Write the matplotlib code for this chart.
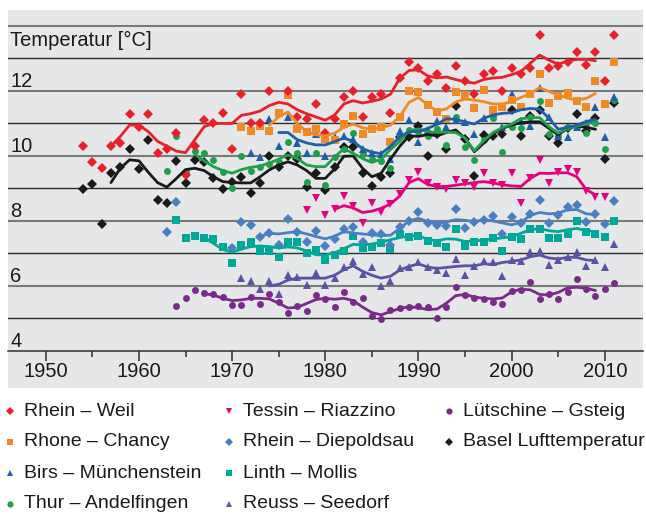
import numpy as np
import matplotlib.pyplot as plt
from matplotlib.lines import Line2D

plt.rcParams['font.family'] = ['Liberation Sans', 'DejaVu Sans']

nan = np.nan

# Rhein - Weil (annual points and smoothed curve)
weil_start = 1954
weil_pts = [10.31, 9.81, 9.62, 10.31, 10.41, 11.30, 10.90, 11.30, 10.10, 10.21,
            10.72, 9.42, 10.31, 11.11, 11.0, 11.31, 10.21, 11.91, 11.0, 11.0,
            12.01, nan, 12.01, 11.21, 11.13, 11.6, 10.72, 11.13, 11.81, 12.01,
            11.21, 11.81, 11.91, 11.31, 12.41, 12.9, 12.71, 12.31, 12.51, 12.1,
            12.78, 12.31, 11.91, 12.51, 12.6, 12.01, 12.71, 12.51, 12.71, 13.71,
            12.71, 12.78, 12.9, 13.2, 12.8, 13.2, 12.31, 13.71]
weil_lstart = 1957
weil_line = [10.3, 10.6, 10.95, 10.95, 10.75, 10.45, 10.3, 10.15, 10.1, 10.5,
             10.9, 11.0, 11.0, 11.0, 11.25, 11.3, 11.38, 11.55, 11.65, 11.6,
             11.42, 11.3, 11.2, 11.1, 11.26, 11.6, 11.7, 11.63, 11.68, 11.75,
             11.9, 12.39, 12.63, 12.65, 12.46, 12.4, 12.43, 12.35, 12.28, 12.24,
             12.35, 12.4, 12.42, 12.5, 12.6, 12.85, 13.1, 12.95, 12.82, 12.92,
             12.97, 12.97, 12.93]

# Rhone - Chancy
rhone_start = 1971
rhone_pts = [10.9, 10.78, 10.92, 10.78, 11.31, 11.87, 10.84, 10.74, 10.84, 10.53,
             10.49, 10.98, 11.23, 10.66, 10.84, 10.9, 10.43, 11.19, 12.01, 11.97,
             11.57, 11.36, 11.13, 11.97, 11.87, 11.46, 12.03, 11.42, 11.52, 11.72,
             11.52, 11.91, 12.52, 11.62, 11.85, 11.93, 11.69, 11.52, 12.32, 11.6,
             12.89]
rhone_lstart = 1974
rhone_line = [10.95, 11.2, 11.35, 11.0, 10.75, 10.65, 10.62, 10.7, 10.88, 10.98,
              10.87, 10.82, 10.86, 10.95, 11.21, 11.65, 11.8, 11.57, 11.38, 11.45,
              11.66, 11.75, 11.72, 11.67, 11.6, 11.6, 11.67, 11.8, 11.92, 12.1,
              11.98, 11.88, 11.78, 11.72, 11.77, 11.92]

# Birs - Muenchenstein
birs_start = 1972
birs_pts = [10.1, 9.96, 11.13, 10.31, 11.21, 10.41, 10.1, 10.67, 10.0, 10.57,
            10.62, 10.51, 10.21, 10.1, 10.06, 9.9, 10.78, 11.11, 10.44, 10.8,
            11.06, 10.88, 11.1, 11.05, 10.68, 11.16, 11.31, 10.9, 11.91, 11.09,
            10.92, 12.08, 11.2, 10.6, 10.58, 10.9, 11.0, 11.5, 10.59, 11.8]
birs_lstart = 1975
birs_line = [10.72, 10.72, 10.5, 10.4, 10.34, 10.34, 10.44, 10.55, 10.45, 10.22,
             10.12, 10.07, 10.3, 10.59, 10.75, 10.75, 10.85, 10.97, 11.15, 11.12,
             11.05, 10.98, 11.16, 11.26, 11.31, 11.33, 11.42, 11.46, 11.44, 11.16,
             10.82, 10.88, 10.95, 11.06, 11.13]

# Thur - Andelfingen
thur_start = 1963
thur_pts = [9.55, 10.62, 9.52, 10.16, 10.1, 9.88, 9.52, 9.0, 10.0, 9.55,
            9.65, 9.75, 9.8, 10.44, 10.1, 9.21, 10.08, 9.11, 9.96, 10.2,
            10.7, 10.06, 9.9, 9.83, 9.62, 10.6, 10.8, 10.75, 10.6, 10.82,
            10.34, 11.19, 10.27, 9.86, 10.5, 11.16, 10.13, 10.88, 10.85, 11.2,
            11.7, 10.68, 10.62, 10.9, 10.9, 10.7, 11.0, 10.2, 11.72]
thur_lstart = 1966
thur_line = [10.05, 9.85, 9.67, 9.55, 9.47, 9.58, 9.65, 9.69, 9.78, 9.9,
             10.03, 9.92, 9.72, 9.67, 9.67, 9.97, 10.22, 10.08, 9.92, 9.8,
             9.9, 10.2, 10.45, 10.78, 10.83, 10.75, 10.72, 10.73, 10.72, 10.55,
             10.16, 10.47, 10.72, 10.87, 10.98, 11.15, 11.17, 11.18, 10.9, 10.7,
             10.85, 10.92, 10.98, 11.08]

# Tessin - Riazzino
tessin_start = 1978
tessin_pts = [8.34, 8.7, 8.19, 8.36, 8.77, 8.46, 7.95, 8.56, 8.26, 8.52,
              8.83, 9.26, 9.5, 9.18, 9.03, 8.97, 9.26, 9.18, 9.04, 9.47,
              9.16, 9.11, 9.47, 8.54, 9.31, 9.88, 9.16, 9.52, 9.59, 9.52,
              8.93, 8.73, 8.75]
tessin_lstart = 1981
tessin_line = [8.36, 8.47, 8.4, 8.26, 8.3, 8.39, 8.52, 8.77, 9.18, 9.3,
               9.12, 9.06, 9.06, 9.1, 9.14, 9.18, 9.21, 9.17, 9.11, 9.08,
               9.06, 9.31, 9.47, 9.46, 9.48, 9.48, 9.36, 8.97, 8.8]

# Rhein - Diepoldsau
diep_start = 1963
diep_pts = [7.65, 8.57, nan, nan, nan, nan, nan, 7.16, 7.96, 7.88,
            7.5, 7.62, 7.26, 8.05, 7.67, 7.36, 7.69, 7.23, 7.44, 7.74,
            7.8, 7.36, 7.62, 7.6, 7.26, 7.8, 8.0, 8.27, 7.95, 7.88,
            7.85, 8.36, 7.77, 7.98, 8.03, 8.15, 7.6, 8.11, 7.95, 8.2,
            8.63, 7.93, 8.19, 8.42, 8.49, 7.98, 8.22, 7.91, 8.6]
diep_lstart = 1973
diep_line = [7.52, 7.62, 7.6, 7.64, 7.67, 7.6, 7.52, 7.45, 7.53, 7.67,
             7.63, 7.6, 7.57, 7.55, 7.56, 7.77, 8.0, 8.08, 7.98, 7.93,
             7.97, 8.04, 8.02, 7.98, 8.04, 8.0, 7.94, 7.88, 7.96, 8.17,
             8.26, 8.22, 8.24, 8.34, 8.35, 8.22, 8.19]

# Linth - Mollis
linth_start = 1964
linth_pts = [8.03, 7.47, 7.54, 7.48, 7.45, 7.21, 6.7, 7.26, 7.36, 7.09,
             7.09, 6.9, 7.36, 7.36, 7.0, 7.11, 6.8, 6.95, 7.09, 7.54,
             7.16, 7.21, 7.33, 7.13, 7.6, 7.52, 7.54, 7.39, 7.31, 7.21,
             7.74, 7.24, 7.36, 7.36, 7.47, 7.09, 7.52, 7.44, 7.74, 7.74,
             7.47, 7.47, 7.6, 8.01, 7.67, 7.6, 7.5, 8.01]
linth_lstart = 1967
linth_line = [7.5, 7.31, 7.12, 7.04, 7.13, 7.21, 7.23, 7.21, 7.17, 7.2,
              7.17, 7.08, 6.96, 6.95, 7.02, 7.15, 7.28, 7.26, 7.29, 7.35,
              7.42, 7.49, 7.54, 7.55, 7.43, 7.39, 7.45, 7.44, 7.37, 7.38,
              7.42, 7.44, 7.48, 7.52, 7.62, 7.73, 7.77, 7.7, 7.67, 7.73,
              7.77, 7.7, 7.67]

# Reuss - Seedorf
reuss_start = 1971
reuss_pts = [6.24, 6.16, 5.9, 6.16, 5.75, 6.34, 6.27, 6.03, 6.39, 6.03,
             6.24, 6.58, 6.78, 6.37, 6.58, 6.0, 6.16, 6.54, 6.58, 6.75,
             6.58, 6.49, 6.41, 6.82, 6.34, 6.62, 6.78, 6.75, 6.31, 6.8,
             6.78, 7.03, 7.06, 6.65, 6.8, 6.9, 7.03, 6.6, 6.8, 6.58, 7.29]
reuss_lstart = 1974
reuss_line = [6.0, 6.05, 6.18, 6.24, 6.24, 6.24, 6.24, 6.33, 6.5, 6.62,
              6.45, 6.33, 6.24, 6.3, 6.49, 6.6, 6.68, 6.58, 6.54, 6.57,
              6.6, 6.62, 6.62, 6.68, 6.66, 6.72, 6.76, 6.8, 6.9, 6.95,
              6.86, 6.83, 6.88, 6.88, 6.8, 6.78]

# Luetschine - Gsteig
luet_start = 1964
luet_pts = [5.38, 5.62, 5.86, 5.77, 5.76, 5.67, 5.42, 5.42, 5.67, 5.45,
            5.75, 5.5, 5.18, 5.38, 5.24, 5.72, 5.59, 5.34, 5.8, 5.52,
            5.62, 5.08, 4.97, 5.26, 5.31, 5.34, 5.38, 5.34, 5.0, 5.34,
            5.98, 5.72, 5.62, 5.59, 5.52, 5.45, 5.83, 5.86, 6.13, 5.59,
            5.75, 5.59, 5.8, 6.21, 5.9, 5.69, 5.9, 6.1]
luet_lstart = 1967
luet_line = [5.76, 5.72, 5.62, 5.55, 5.57, 5.62, 5.62, 5.6, 5.47, 5.32,
             5.34, 5.46, 5.58, 5.62, 5.59, 5.62, 5.55, 5.35, 5.18, 5.11,
             5.21, 5.31, 5.36, 5.33, 5.27, 5.29, 5.47, 5.7, 5.74, 5.66,
             5.62, 5.6, 5.63, 5.82, 5.9, 5.88, 5.74, 5.72, 5.8, 5.94,
             5.96, 5.93, 5.86]

# Basel Lufttemperatur
basel_start = 1954
basel_pts = [8.97, 9.15, 7.9, 9.47, 9.67, 10.21, 9.59, 10.49, 8.65, 8.54,
             9.83, 9.17, 9.86, 9.8, 9.33, 8.97, 9.21, 9.36, 8.87, 9.18,
             10.0, 9.65, 10.0, 9.9, 9.04, 9.47, 8.95, 9.65, 10.29, 10.29,
             9.47, 9.06, 9.36, 9.47, 10.57, 10.57, 10.92, 10.0, 10.68, 10.21,
             11.54, 10.51, 9.38, 10.65, 10.62, 10.68, 11.42, 10.62, 11.23, 11.42,
             10.6, 10.39, 10.85, 11.29, 10.78, 11.16, 9.9, 11.62]
basel_lstart = 1957
basel_line = [9.18, 9.62, 9.88, 9.85, 9.5, 9.18, 9.04, 9.3, 9.58, 9.62,
              9.55, 9.36, 9.21, 9.18, 9.17, 9.17, 9.36, 9.57, 9.72, 9.82,
              9.72, 9.55, 9.31, 9.31, 9.6, 9.99, 10.0, 9.62, 9.36, 9.47,
              9.9, 10.3, 10.62, 10.6, 10.66, 10.62, 10.72, 10.8, 10.54, 10.13,
              10.39, 10.68, 10.85, 10.95, 11.02, 11.05, 11.05, 10.85, 10.65, 10.85,
              10.92, 10.88, 10.82]

series = [
    ('Rhein – Weil', '#e8202a', 'D', 5.0, weil_start, weil_pts, weil_lstart, weil_line),
    ('Rhone – Chancy', '#f08a24', 's', 5.5, rhone_start, rhone_pts, rhone_lstart, rhone_line),
    ('Birs – Münchenstein', '#1f5fa8', '^', 5.5, birs_start, birs_pts, birs_lstart, birs_line),
    ('Thur – Andelfingen', '#1fa04a', 'o', 5.0, thur_start, thur_pts, thur_lstart, thur_line),
    ('Tessin – Riazzino', '#e5007d', 'v', 5.5, tessin_start, tessin_pts, tessin_lstart, tessin_line),
    ('Rhein – Diepoldsau', '#4b7fc4', 'D', 5.0, diep_start, diep_pts, diep_lstart, diep_line),
    ('Linth – Mollis', '#00a898', 's', 5.5, linth_start, linth_pts, linth_lstart, linth_line),
    ('Reuss – Seedorf', '#5a52a5', '^', 5.5, reuss_start, reuss_pts, reuss_lstart, reuss_line),
    ('Lütschine – Gsteig', '#7a2a8a', 'o', 5.0, luet_start, luet_pts, luet_lstart, luet_line),
    ('Basel Lufttemperatur', '#1a1a1a', 'D', 5.0, basel_start, basel_pts, basel_lstart, basel_line),
]

fig = plt.figure(figsize=(6.46, 5.16), dpi=100)
ax = fig.add_axes([8/646, 1 - 388/516, 635/646, 378/516])
ax.set_facecolor('#e6e7e8')
ax.set_xlim(1945.95, 2014.1)
ax.set_ylim(2.86, 14.49)

# gridlines
for v in range(5, 15):
    if v % 2 == 0:
        ax.axhline(v, color='#7a7a7a', lw=1.5, zorder=1)
    else:
        ax.axhline(v, color='#2e2e2e', lw=1.0, zorder=1)

# draw back to front
for label, color, mk, ms, ps, pts, ls, line in reversed(series):
    yrs = np.arange(ps, ps + len(pts))
    ax.plot(yrs, pts, ls='none', marker=mk, ms=ms, color=color,
            markeredgewidth=0, zorder=3)
    lyrs = np.arange(ls, ls + len(line))
    ax.plot(lyrs, line, color=color, lw=2.0, zorder=4,
            solid_joinstyle='round', solid_capstyle='round')

for s in ['top', 'right', 'left']:
    ax.spines[s].set_visible(False)
ax.spines['bottom'].set_position(('data', 4))
ax.spines['bottom'].set_color('#2e2e2e')
ax.spines['bottom'].set_linewidth(1.1)
ax.set_yticks([])
ax.set_xticks(range(1950, 2011, 10))
ax.set_xticks(range(1955, 2011, 10), minor=True)
ax.tick_params(axis='x', which='major', direction='out', length=7.5, width=1.1,
               color='#2e2e2e', labelsize=14.5, pad=0.5, labelcolor='#1a1a1a')
ax.tick_params(axis='x', which='minor', direction='out', length=4, width=1.1,
               color='#2e2e2e')

for v in [4, 6, 8, 10, 12]:
    ax.annotate(str(v), xy=(0, v), xycoords=('axes fraction', 'data'),
                xytext=(1.5, 3), textcoords='offset points', va='baseline',
                ha='left', fontsize=14.5, color='#1a1a1a')
ax.annotate('Temperatur [°C]', xy=(0, 13), xycoords=('axes fraction', 'data'),
            xytext=(1.5, 9), textcoords='offset points', va='baseline',
            ha='left', fontsize=14.5, color='#1a1a1a')

# legend, three columns filled top to bottom
col_x = [10, 229, 449]
row_y = [411, 442, 473, 504]
for i, (label, color, mk, ms, *_rest) in enumerate(series):
    c, r = divmod(i, 4)
    mx = col_x[c] / 646
    my = 1 - row_y[r] / 516
    fig.add_artist(Line2D([mx], [my], transform=fig.transFigure, marker=mk,
                          ms=4.5, color=color, ls='none', markeredgewidth=0))
    fig.text(mx + 14 / 646, my, label, fontsize=14, va='center', ha='left',
             color='#1a1a1a')

fig.savefig('out.png', dpi=100)
